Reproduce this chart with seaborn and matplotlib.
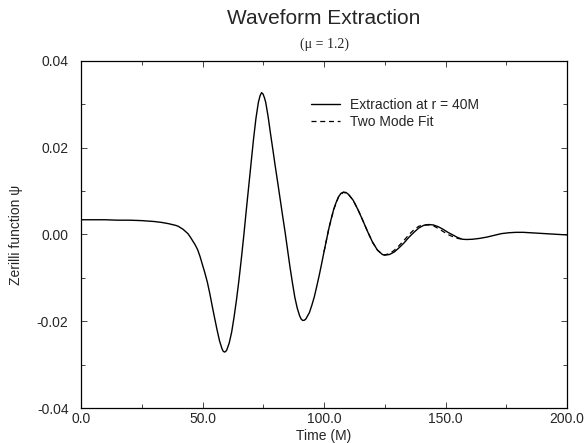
import matplotlib
matplotlib.use("Agg")
import matplotlib.pyplot as plt
import seaborn as sns
import pandas as pd
from matplotlib.ticker import MultipleLocator

# ---- data ----
time_extraction = [0, 5, 10, 15, 20, 25, 30, 33, 36, 39, 40, 42, 44, 45, 46, 47, 48, 49, 50, 51, 52,
                   53, 54, 55, 56, 57, 58, 58.5, 59, 59.5, 60, 61, 62, 63, 64, 65, 66, 67, 68, 69, 70,
                   71, 72, 73, 73.7, 74.3, 74.9, 75.5, 76, 77, 78, 79, 80, 81, 82, 83, 84, 85, 86, 87,
                   88, 89, 90, 90.6, 91.2, 91.8, 92.5, 94, 95, 96, 97, 98, 99, 100, 101, 102, 103, 104,
                   105, 106, 107, 108, 109, 110, 112, 114, 116, 118, 120, 122, 124, 125, 127, 129, 131,
                   133, 135, 137, 139, 141, 143, 145, 147, 149, 151, 153, 155, 157, 158.7, 161, 164,
                   167, 170, 173, 176, 179, 182, 185, 188, 191, 194, 197, 200]
psi_extraction = [0.0034, 0.0034, 0.0034, 0.0033, 0.0033, 0.0032, 0.0030, 0.0028, 0.0025, 0.0021, 0.0019,
                  0.0012, 0.0002, -0.0006, -0.0015, -0.0024, -0.0035, -0.0051, -0.0070, -0.0089,
                  -0.0110, -0.0136, -0.0165, -0.0193, -0.0220, -0.0245, -0.0263, -0.0269, -0.0271,
                  -0.0270, -0.0266, -0.0250, -0.0225, -0.0190, -0.0150, -0.0105, -0.0055, -0.0002,
                  0.0055, 0.0110, 0.0165, 0.0220, 0.0268, 0.0305, 0.0320, 0.0327, 0.0324, 0.0315,
                  0.0305, 0.0272, 0.0232, 0.0194, 0.0155, 0.0118, 0.0080, 0.0042, 0.0005, -0.0035,
                  -0.0075, -0.0111, -0.0145, -0.0170, -0.0188, -0.0195, -0.0198, -0.0198, -0.0195,
                  -0.0180, -0.0163, -0.0144, -0.0120, -0.0095, -0.0068, -0.0040, -0.0013, 0.0014,
                  0.0037, 0.0058, 0.0074, 0.0087, 0.0095, 0.00975, 0.0097, 0.0093, 0.0079, 0.0057,
                  0.0032, 0.0006, -0.0018, -0.0036, -0.0046, -0.00477, -0.0046, -0.0040, -0.0030,
                  -0.0019, -0.0006, 0.0005, 0.0015, 0.0021, 0.0023, 0.0022, 0.0018, 0.0012, 0.0005,
                  -0.0001, -0.0007, -0.0011, -0.00115, -0.0011, -0.0009, -0.0006, -0.0002, 0.0002,
                  0.0004, 0.0005, 0.0005, 0.0004, 0.0003, 0.0002, 0.0001, 0.0000, -0.0001]

time_fit = [100, 102, 104, 106, 108, 110, 112, 114, 116, 118, 120, 122, 124, 125, 127, 129, 131, 133,
            135, 137, 139, 141, 143, 145, 147, 149, 151, 153, 155, 157, 158]
psi_fit = [-0.0040, 0.0014, 0.0058, 0.0087, 0.00975, 0.0093, 0.0079, 0.0057, 0.0032, 0.0006, -0.0018,
           -0.0036, -0.0046, -0.0047, -0.0044, -0.0036, -0.0025, -0.0013, 0.0000, 0.0011, 0.0019,
           0.0022, 0.0022, 0.0020, 0.0014, 0.0007, 0.0000, -0.0005, -0.0009, -0.0011, -0.0012]

series_labels = ["Extraction at r = 40M", "Two Mode Fit"]
x_ticks = [0, 50, 100, 150, 200]
x_tick_labels = ["0.0", "50.0", "100.0", "150.0", "200.0"]
y_ticks = [-0.04, -0.02, 0.0, 0.02, 0.04]
y_tick_labels = ["-0.04", "-0.02", "0.00", "0.02", "0.04"]

df_ext = pd.DataFrame({"Time": time_extraction, "psi": psi_extraction})
df_fit = pd.DataFrame({"Time": time_fit, "psi": psi_fit})

sns.set_style("ticks")
plt.rcParams["font.family"] = ["Liberation Sans", "DejaVu Sans"]

fig = plt.figure(figsize=(5.84, 4.43), dpi=100)
ax = fig.add_axes([81 / 584, 1 - 408 / 443, (567 - 81) / 584, (408 - 61) / 443])

sns.lineplot(data=df_ext, x="Time", y="psi", ax=ax, color="black", linewidth=1.0,
             label=series_labels[0], sort=False)
sns.lineplot(data=df_fit, x="Time", y="psi", ax=ax, color="black", linewidth=0.9,
             linestyle=(0, (4, 3)), label=series_labels[1], sort=False)

ax.set_xlim(0, 200)
ax.set_ylim(-0.04, 0.04)
ax.set_xticks(x_ticks)
ax.set_xticklabels(x_tick_labels)
ax.set_yticks(y_ticks)
ax.set_yticklabels(y_tick_labels)
ax.xaxis.set_minor_locator(MultipleLocator(25))
ax.yaxis.set_minor_locator(MultipleLocator(0.01))
ax.tick_params(which="both", direction="in", top=True, right=True, labelsize=10, width=0.6)
ax.tick_params(which="major", length=4)
ax.tick_params(which="minor", length=3)
ax.tick_params(axis="x", which="major", pad=3)
ax.tick_params(axis="y", which="major", pad=9)
for s in ax.spines.values():
    s.set_linewidth(0.9)
    s.set_color("black")

ax.set_xlabel("Time (M)", fontsize=10, labelpad=2)
ax.set_ylabel("Zerilli function ψ", fontsize=10)
ax.yaxis.set_label_coords(-0.12, 0.5)

fig.text(324 / 584, 1 - 19 / 443, "Waveform Extraction", ha="center", va="center", fontsize=15)
fig.text(324 / 584, 1 - 44 / 443, "(μ = 1.2)", ha="center", va="center", fontsize=10,
         family=["Liberation Serif", "DejaVu Serif"])

leg = ax.legend(loc="upper left", bbox_to_anchor=(0.462, 0.91), frameon=False, fontsize=10,
                handlelength=2.1, handletextpad=0.7, labelspacing=0.25, borderaxespad=0)

fig.savefig("out.png", dpi=100)
